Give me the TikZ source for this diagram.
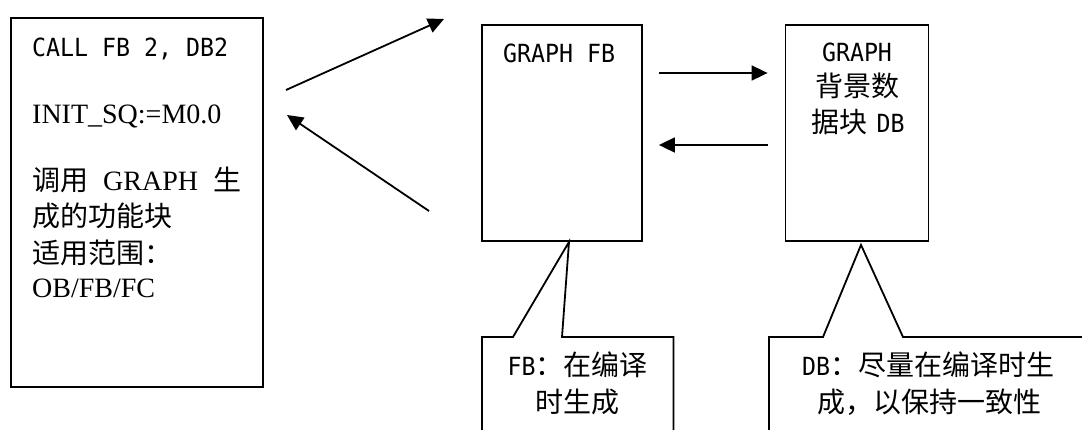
\documentclass[tikz,border=0pt]{standalone}
\usepackage{fontspec}
\usepackage{tikz}
\usetikzlibrary{arrows.meta}
\setmainfont{Liberation Serif}
\newfontfamily\cjk{Noto Sans CJK SC}
\newfontfamily\mono[FakeStretch=0.93]{DejaVu Sans Mono}
\newcommand{\zhsize}{\fontsize{28pt}{36pt}\selectfont}
\newcommand{\monosize}{\fontsize{25pt}{36pt}\selectfont}

\begin{document}
\begin{tikzpicture}[x=1pt, y=-1pt,
    box/.style={draw, rectangle, line width=1.8pt, inner sep=0pt},
    outline/.style={line width=1.8pt},
    flow/.style={line width=1.8pt, -{Triangle[length=16pt, width=15pt]}},
    txt/.style={inner sep=0pt, font=\zhsize}]
                \useasboundingbox (0,0) rectangle (1082,429);

                \node[box, minimum width=252pt, minimum height=369pt] (call block) at (137,202.5) {};
                \node[box, minimum width=160pt, minimum height=216pt] (graph fb) at (562,133) {};
                \node[box, minimum width=143pt, minimum height=216pt] (graph db) at (857,133) {};

                \node[txt, anchor=base west] (call line) at (32,56) {\mono\monosize CALL FB 2, DB2};
                \node[txt, anchor=base west] (init line) at (32,123) {INIT\_SQ:=M0.0};
                \node[txt, anchor=base west] (use line) at (32,190) {\makebox[209pt][l]{{\cjk 调用}\hfill GRAPH\hfill{\cjk 生}}};
                \node[txt, anchor=base west] (fn line) at (32,226) {\cjk 成的功能块};
                \node[txt, anchor=base west] (range line) at (32,263) {\cjk 适用范围：};
                \node[txt, anchor=base west] (ob line) at (32,297) {OB/FB/FC};

                \node[txt, anchor=base west] (fb title) at (503,62) {\mono\monosize GRAPH FB};
                \node[txt, anchor=base] (db title) at (857,61) {\mono\monosize GRAPH};
                \node[txt, anchor=base] (db name) at (857,96) {\cjk 背景数};
                \node[txt, anchor=base] (db kind) at (858,132) {\cjk 据块\hspace{9pt}{\mono\monosize DB}};

                \coordinate (call start) at (286,90);
                \coordinate (call end) at (444,19);
                \coordinate (back start) at (429,211);
                \coordinate (back end) at (287,115);
                \draw[flow] (call start) -- (call end);
                \draw[flow] (back start) -- (back end);

                \draw[flow, shorten <=16pt, shorten >=17pt] ([yshift=60pt]graph fb.east) -- ([yshift=60pt]graph db.west);
                \draw[flow, shorten <=17pt, shorten >=16pt] ([yshift=-12pt]graph db.west) -- ([yshift=-12pt]graph fb.east);

                % callouts below the blocks
                \coordinate (fb tip) at ([xshift=7pt]graph fb.south);
                \node[minimum width=191pt, minimum height=110pt, inner sep=0pt, anchor=north west] (fb note) at (482,337) {};
                \draw[outline] (fb note.south west) -- (fb note.north west) -- ([xshift=31pt]fb note.north west) -- (fb tip) -- ([xshift=80pt]fb note.north west) -- (fb note.north east) -- (fb note.south east);
                \node[txt, anchor=base] (fb note a) at (577.5,375) {{\mono\monosize FB}\cjk ：在编译};
                \node[txt, anchor=base] (fb note b) at (577.5,412) {\cjk 时生成};

                \coordinate (db tip) at ([xshift=4pt, yshift=-3pt]graph db.south);
                \node[minimum width=330pt, minimum height=110pt, inner sep=0pt, anchor=north west] (db note) at (769,337) {};
                \draw[outline] (db note.south west) -- (db note.north west) -- ([xshift=54pt]db note.north west) -- (db tip) -- ([xshift=134pt]db note.north west) -- (db note.north east) -- (db note.south east);
                \node[txt, anchor=base] (db note a) at (928,375) {{\mono\monosize DB}\cjk ：尽量在编译时生};
                \node[txt, anchor=base] (db note b) at (929,412) {\cjk 成，以保持一致性};
\end{tikzpicture}
\end{document}
